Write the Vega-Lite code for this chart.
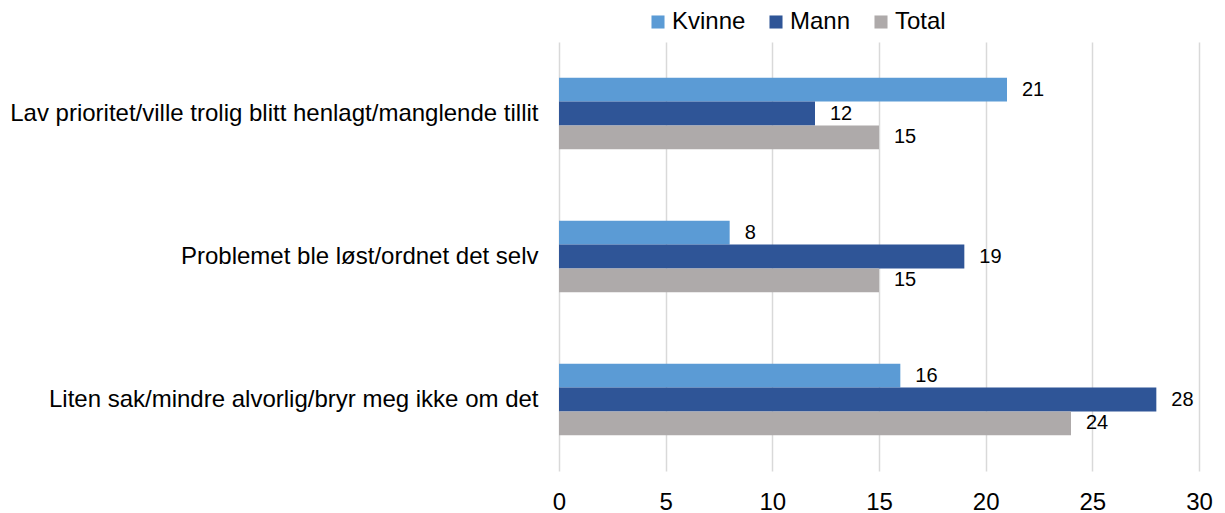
{
  "$schema": "https://vega.github.io/schema/vega-lite/v6.json",
  "width": 640,
  "height": 429,
  "autosize": {"type": "none"},
  "padding": {"left": 559, "top": 42, "right": 26, "bottom": 42},
  "background": "white",
  "config": {
    "view": {"stroke": null},
    "font": "Liberation Sans",
    "axis": {"labelFont": "Liberation Sans", "labelColor": "#000000"}
  },
  "data": {
    "values": [
      {"kategori": "Lav prioritet/ville trolig blitt henlagt/manglende tillit", "kjonn": "Kvinne", "verdi": 21},
      {"kategori": "Lav prioritet/ville trolig blitt henlagt/manglende tillit", "kjonn": "Mann", "verdi": 12},
      {"kategori": "Lav prioritet/ville trolig blitt henlagt/manglende tillit", "kjonn": "Total", "verdi": 15},
      {"kategori": "Problemet ble løst/ordnet det selv", "kjonn": "Kvinne", "verdi": 8},
      {"kategori": "Problemet ble løst/ordnet det selv", "kjonn": "Mann", "verdi": 19},
      {"kategori": "Problemet ble løst/ordnet det selv", "kjonn": "Total", "verdi": 15},
      {"kategori": "Liten sak/mindre alvorlig/bryr meg ikke om det", "kjonn": "Kvinne", "verdi": 16},
      {"kategori": "Liten sak/mindre alvorlig/bryr meg ikke om det", "kjonn": "Mann", "verdi": 28},
      {"kategori": "Liten sak/mindre alvorlig/bryr meg ikke om det", "kjonn": "Total", "verdi": 24}
    ]
  },
  "encoding": {
    "y": {
      "field": "kategori",
      "type": "nominal",
      "sort": null,
      "scale": {"paddingInner": 0.5, "paddingOuter": 0.25},
      "axis": {
        "title": null,
        "ticks": false,
        "domain": false,
        "labelFontSize": 24,
        "labelPadding": 21,
        "labelLimit": 0
      }
    },
    "yOffset": {
      "field": "kjonn",
      "type": "nominal",
      "sort": ["Kvinne", "Mann", "Total"],
      "scale": {"paddingInner": 0, "paddingOuter": 0}
    },
    "x": {
      "field": "verdi",
      "type": "quantitative",
      "scale": {"domain": [0, 30], "nice": false},
      "axis": {
        "title": null,
        "values": [0, 5, 10, 15, 20, 25, 30],
        "ticks": false,
        "domain": false,
        "grid": true,
        "gridColor": "#D9D9D9",
        "gridWidth": 1.5,
        "labelFontSize": 24,
        "labelPadding": 19,
        "labelFlush": false
      }
    }
  },
  "layer": [
    {
      "mark": {"type": "bar"},
      "encoding": {
        "color": {
          "field": "kjonn",
          "type": "nominal",
          "sort": ["Kvinne", "Mann", "Total"],
          "scale": {"domain": ["Kvinne", "Mann", "Total"], "range": ["#5B9BD5", "#2F5597", "#AEAAAA"]},
          "legend": {
            "title": null,
            "orient": "none",
            "direction": "horizontal",
            "legendX": 87,
            "legendY": -32,
            "symbolType": "square",
            "symbolSize": 170,
            "symbolStrokeWidth": 0,
            "labelFontSize": 24,
            "labelFont": "Liberation Sans",
            "labelColor": "#000000",
            "labelOffset": 2,
            "columnPadding": 18
          }
        }
      }
    },
    {
      "mark": {"type": "text", "align": "left", "baseline": "middle", "dx": 15, "fontSize": 20, "color": "#000000"},
      "encoding": {
        "text": {"field": "verdi", "type": "quantitative"}
      }
    }
  ]
}
